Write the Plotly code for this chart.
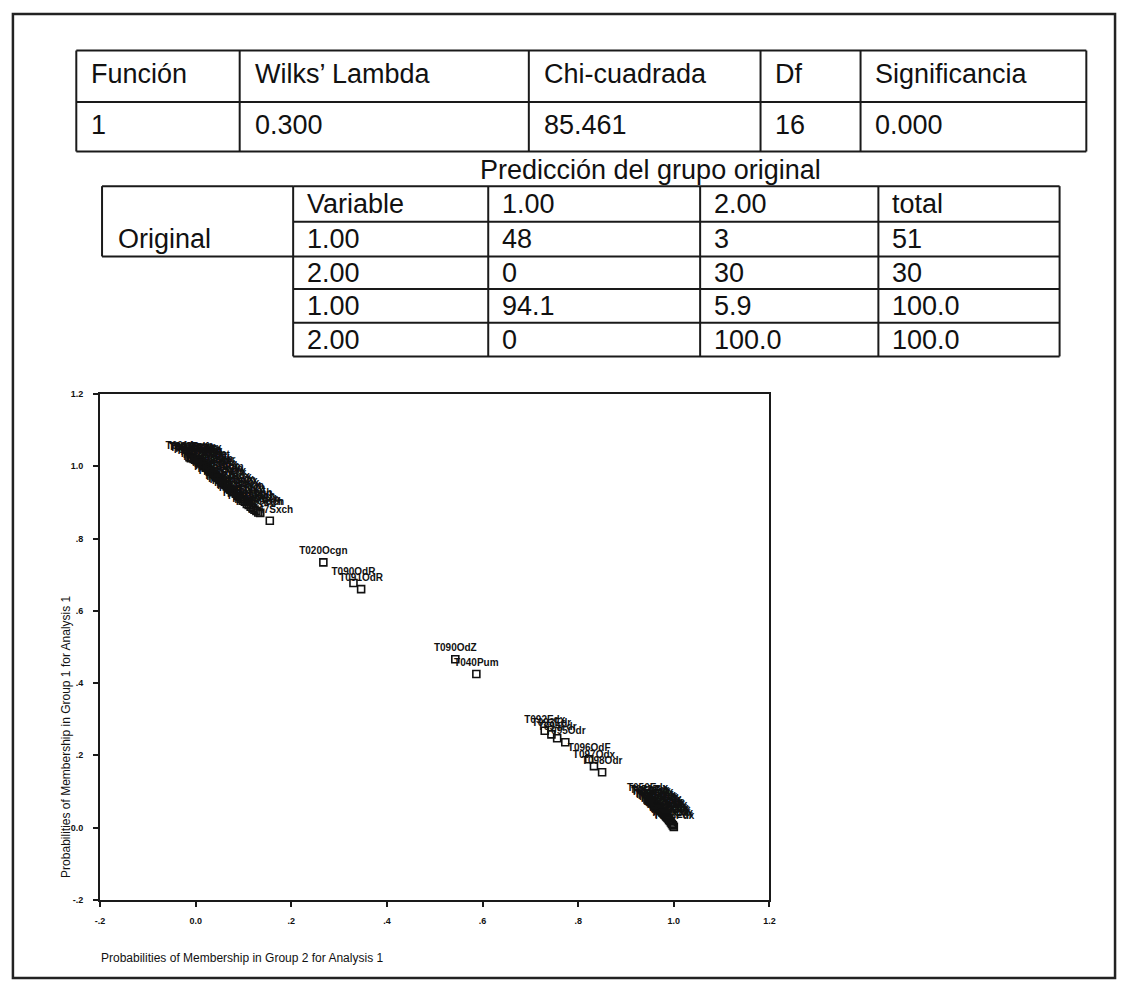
import plotly.graph_objects as go

W, H = 1125, 985

# ---------------- data ----------------
t1_headers = ["Función", "Wilks’ Lambda", "Chi-cuadrada", "Df", "Significancia"]
t1_values = ["1", "0.300", "85.461", "16", "0.000"]

t2_title = "Predicción del grupo original"
t2_rowlabel = "Original"
t2_header = ["Variable", "1.00", "2.00", "total"]
t2_rows = [
    ["1.00", "48", "3", "51"],
    ["2.00", "0", "30", "30"],
    ["1.00", "94.1", "5.9", "100.0"],
    ["2.00", "0", "100.0", "100.0"],
]

# Probabilities of membership in group 2 (x) and group 1 (y)
prob_g2 = [
    -0.013, -0.010, -0.008, -0.004, -0.001, 0.002, 0.004, 0.007, 0.010, 0.012,
    0.015, 0.018, 0.021, 0.024, 0.027, 0.030, 0.033, 0.036, 0.040, 0.043,
    0.047, 0.050, 0.054, 0.057, 0.061, 0.065, 0.068, 0.072, 0.076, 0.080,
    0.084, 0.088, 0.092, 0.095, 0.099, 0.103, 0.107, 0.111, 0.115, 0.119,
    0.123, 0.127, 0.131, 0.135, 0.155,
    0.267, 0.330, 0.346,
    0.543, 0.587,
    0.730, 0.744, 0.756, 0.773,
    0.823, 0.833, 0.850,
    0.945, 0.949, 0.952, 0.955, 0.958, 0.961, 0.964, 0.967, 0.969, 0.972,
    0.974, 0.976, 0.978, 0.980, 0.982, 0.984, 0.986, 0.988, 0.990, 0.992,
    0.994, 0.996, 0.998, 1.000,
]
prob_g1 = [
    1.025, 1.022, 1.024, 1.020, 1.018, 1.016, 1.021, 1.012, 1.008, 1.013,
    1.003, 1.000, 0.996, 1.001, 0.990, 0.985, 0.988, 0.979, 0.975, 0.970,
    0.968, 0.962, 0.958, 0.953, 0.950, 0.944, 0.940, 0.936, 0.931, 0.928,
    0.924, 0.918, 0.915, 0.910, 0.905, 0.902, 0.896, 0.893, 0.888, 0.884,
    0.880, 0.876, 0.872, 0.871, 0.849,
    0.734, 0.677, 0.660,
    0.466, 0.425,
    0.268, 0.258, 0.247, 0.236,
    0.189, 0.170, 0.153,
    0.078, 0.074, 0.070, 0.067, 0.064, 0.060, 0.057, 0.054, 0.051, 0.048,
    0.045, 0.042, 0.040, 0.037, 0.034, 0.031, 0.028, 0.025, 0.021, 0.018,
    0.014, 0.010, 0.006, 0.002,
]
case_labels = [
    "T001Acgn", "T002Bdfr", "T003Cxxx", "T004Dcgn", "T005Ebrt", "T006Fmnz", "T007Gocx", "T008Hpqr",
    "T009Idsa", "T010Jtrn", "T011Kcgn", "T012Lsde", "T013Mxcv", "T014Nbgt", "T015Ocgn", "T016Prtz",
    "T017Qwer", "T018Rtyu", "T019Sdfg", "T021Tocx", "T022Ubnm", "T023Vcgn", "T024Wxxx", "T025Xrts",
    "T026Ydfr", "T027Zocx", "T028Acxx", "T029Bocx", "T030Ccgn", "T031Docx", "T032Eocx", "T033Focx",
    "T034Gcgn", "T035Hdch", "T036Ixxx", "T037Jrst", "T038Kmnb", "T039Lcgn", "T041Mdch", "T042Nrtz",
    "T043Ocxx", "T044Pdch", "T045Qcgn", "T046Rdch", "T047Sxch",
    "T020Ocgn", "T090OdR", "T091OdR",
    "T090OdZ", "T040Pum",
    "T092Edx", "T093Edr", "T094Fdr", "T095Odr",
    "T096OdF", "T097Odx", "T098Odr",
    "T050Edx", "T051Edr", "T052Fdr", "T053Odx", "T054Edr", "T055Pdx", "T056Odr", "T057Edx",
    "T058Fdr", "T059Odx", "T060Edr", "T061Pdx", "T062Odr", "T063Edx", "T064Fdr", "T065Odx",
    "T066Edr", "T067Pdx", "T068Odr", "T069Edx", "T070Fdr", "T071Odx", "T072Edr", "T073Pdx",
]

axis_tickvals = [-0.2, 0.0, 0.2, 0.4, 0.6, 0.8, 1.0, 1.2]
axis_ticktext = ["-.2", "0.0", ".2", ".4", ".6", ".8", "1.0", "1.2"]
x_title = "Probabilities of Membership in Group 2 for Analysis 1"
y_title = "Probabilities of Membership in Group 1 for Analysis 1"

# ---------------- helpers ----------------
def px(x):
    return x / W

def py(y):
    return 1 - y / H

shapes = []
annotations = []
LINE = dict(color="#1a1a1a", width=2)
FONT = "Liberation Sans, Arial"

def hline(x0, x1, y):
    shapes.append(dict(type="line", xref="paper", yref="paper",
                       x0=px(x0), x1=px(x1), y0=py(y), y1=py(y), line=LINE))

def vline(x, y0, y1):
    shapes.append(dict(type="line", xref="paper", yref="paper",
                       x0=px(x), x1=px(x), y0=py(y0), y1=py(y1), line=LINE))

def text(x, y, s, size=27, anchor="left"):
    annotations.append(dict(xref="paper", yref="paper", x=px(x), y=py(y), text=s,
                            showarrow=False, xanchor=anchor, yanchor="middle",
                            font=dict(family=FONT, size=size, color="#111")))

# outer frame
shapes.append(dict(type="rect", xref="paper", yref="paper", x0=px(8), x1=px(1121),
                   y0=py(983), y1=py(9), line=dict(color="#222", width=2.5)))

# Table 1
t1_cols = [72, 237, 529, 763, 864, 1092]
t1_rows = [46, 98, 148]
for yy in t1_rows:
    hline(t1_cols[0], t1_cols[-1], yy)
for xx in t1_cols:
    vline(xx, t1_rows[0], t1_rows[-1])
for i, (h, v) in enumerate(zip(t1_headers, t1_values)):
    text(t1_cols[i] + 13, (t1_rows[0] + t1_rows[1]) / 2 - 2, h)
    text(t1_cols[i] + 13, (t1_rows[1] + t1_rows[2]) / 2 - 2, v)

# Table 2
t2_cols = [291, 488, 702, 882, 1065]
t2_rowsy = [183, 219, 254, 287, 321, 355]
orig_left = 98
text((469 + 834) / 2, 167, t2_title, anchor="center")
for yy in t2_rowsy:
    hline(t2_cols[0], t2_cols[-1], yy)
for xx in t2_cols:
    vline(xx, t2_rowsy[0], t2_rowsy[-1])
hline(orig_left, t2_cols[0], t2_rowsy[0])
hline(orig_left, t2_cols[0], t2_rowsy[2])
vline(orig_left, t2_rowsy[0], t2_rowsy[2])
text(orig_left + 14, (t2_rowsy[1] + t2_rowsy[2]) / 2, t2_rowlabel)
all_rows = [t2_header] + t2_rows
for r, row in enumerate(all_rows):
    yc = (t2_rowsy[r] + t2_rowsy[r + 1]) / 2
    for c, s in enumerate(row):
        text(t2_cols[c] + 12, yc, s)

# axis titles
annotations.append(dict(xref="paper", yref="paper", x=px(95), y=py(963), text=x_title,
                        showarrow=False, xanchor="left", yanchor="middle",
                        font=dict(family=FONT, size=12, color="#111")))
annotations.append(dict(xref="paper", yref="paper", x=px(62), y=py(739), text=y_title,
                        showarrow=False, xanchor="center", yanchor="middle", textangle=-90,
                        font=dict(family=FONT, size=12, color="#111")))

# ---------------- figure ----------------
fig = go.Figure()
fig.add_trace(go.Scatter(
    x=prob_g2, y=prob_g1, mode="markers+text", text=case_labels,
    textposition="top center",
    textfont=dict(family=FONT, size=10, color="#111", weight="bold"),
    marker=dict(symbol="square-open", size=7, color="#111", line=dict(width=1.6, color="#111")),
    cliponaxis=False, hoverinfo="skip", showlegend=False,
))

axis_common = dict(
    showline=True, linecolor="#1a1a1a", linewidth=2, mirror=True,
    ticks="outside", ticklen=5, tickwidth=1.5, tickcolor="#1a1a1a",
    showgrid=False, zeroline=False,
    tickvals=axis_tickvals, ticktext=axis_ticktext,
    tickfont=dict(family=FONT, size=9, color="#111", weight="bold"),
)

fig.update_layout(
    width=W, height=H,
    margin=dict(l=0, r=0, t=0, b=0),
    paper_bgcolor="white", plot_bgcolor="white",
    xaxis=dict(range=[-0.2, 1.2], domain=[px(96), px(772)], ticklabelstandoff=6, **axis_common),
    yaxis=dict(range=[-0.2, 1.2], domain=[py(904), py(393)], ticklabelstandoff=8, **axis_common),
    shapes=shapes, annotations=annotations,
)

fig.write_html("out.html")
